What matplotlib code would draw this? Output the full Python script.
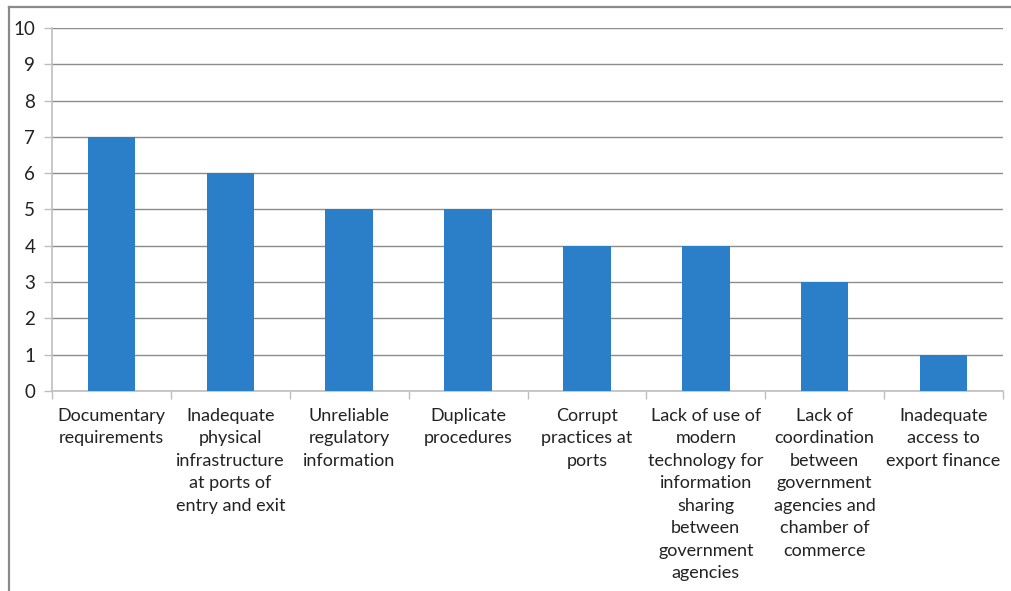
import matplotlib
matplotlib.use("Agg")
import matplotlib.pyplot as plt
from matplotlib.lines import Line2D
import numpy as np

categories = [
    "Documentary\nrequirements",
    "Inadequate\nphysical\ninfrastructure\nat ports of\nentry and exit",
    "Unreliable\nregulatory\ninformation",
    "Duplicate\nprocedures",
    "Corrupt\npractices at\nports",
    "Lack of use of\nmodern\ntechnology for\ninformation\nsharing\nbetween\ngovernment\nagencies",
    "Lack of\ncoordination\nbetween\ngovernment\nagencies and\nchamber of\ncommerce",
    "Inadequate\naccess to\nexport finance",
]
values = [7, 6, 5, 5, 4, 4, 3, 1]
yticks = list(range(0, 11))

plt.rcParams["font.family"] = ["Lato", "DejaVu Sans"]

fig = plt.figure(figsize=(10.11, 5.91), dpi=100, facecolor="white")
ax = fig.add_axes([52 / 1011, 1 - 391 / 591, (1003 - 52) / 1011, (391 - 28) / 591])

x = np.arange(len(values))
ax.bar(x, values, width=0.4, color="#2a7fc8", zorder=3)

ax.set_xlim(-0.5, len(values) - 0.5)
ax.set_ylim(0, 10)
ax.set_yticks(yticks)
ax.set_yticklabels([str(t) for t in yticks], fontsize=13.5, color="#222222")
ax.yaxis.grid(True, color="#8c8c8c", linewidth=1.0, zorder=0)

ax.set_xticks(x)
ax.set_xticklabels(categories, fontsize=13, color="#222222", linespacing=1.5,
                   multialignment="center")
ax.tick_params(axis="x", which="major", length=0, pad=12)
ax.set_xticks(np.arange(-0.5, len(values)), minor=True)
ax.tick_params(axis="x", which="minor", length=6, color="#bfbfbf", width=1)
ax.tick_params(axis="y", length=6, color="#bfbfbf", width=1, pad=6)

for side in ["top", "right"]:
    ax.spines[side].set_visible(False)
for side in ["left", "bottom"]:
    ax.spines[side].set_color("#bfbfbf")
    ax.spines[side].set_linewidth(1.2)

# outer chart frame
fig.add_artist(Line2D([9 / 1011, 9 / 1011], [0, 1 - 7 / 591], transform=fig.transFigure,
                      color="#8a8a8a", linewidth=1.6))
fig.add_artist(Line2D([9 / 1011, 1], [1 - 7 / 591, 1 - 7 / 591], transform=fig.transFigure,
                      color="#8a8a8a", linewidth=1.6))

fig.savefig("out.png", dpi=100)
